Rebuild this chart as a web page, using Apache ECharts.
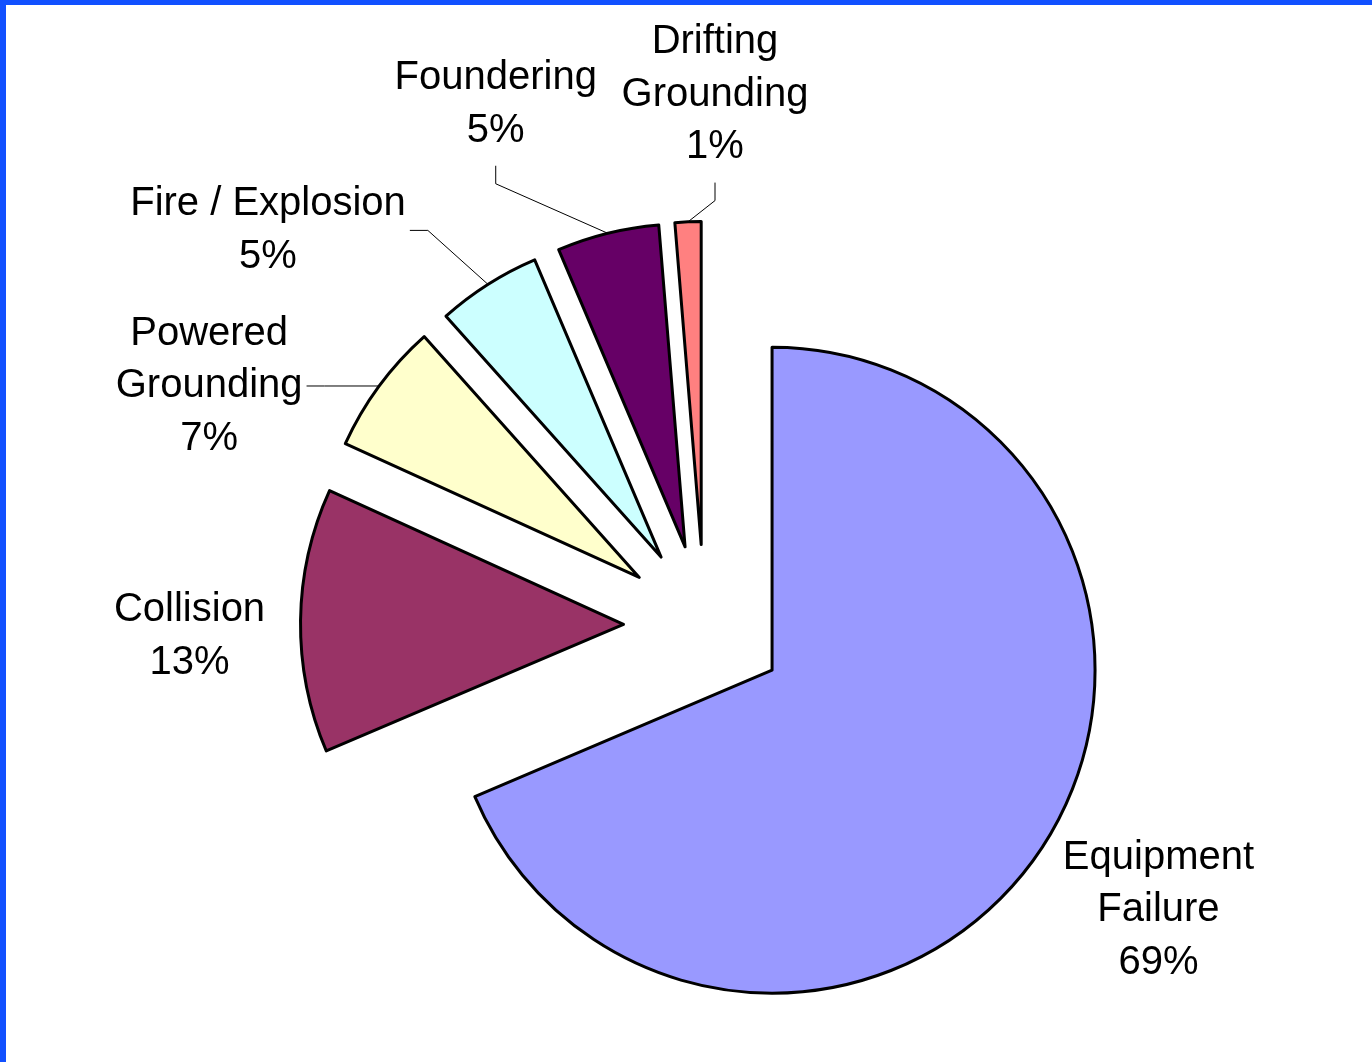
<!DOCTYPE html>
<html>
<head>
<meta charset="utf-8">
<script src="https://cdn.jsdelivr.net/npm/echarts@6/dist/echarts.min.js"></script>
<style>
html,body{margin:0;padding:0;background:#fff;}
#chart{position:absolute;left:0;top:0;width:1372px;height:1062px;}
#bl{position:absolute;left:0;top:0;width:6px;height:1062px;background:#1150ff;}
#bt{position:absolute;left:0;top:0;width:1372px;height:5px;background:#1150ff;}
</style>
</head>
<body>
<div id="chart"></div><div id="bl"></div><div id="bt"></div>
<script>
// ---- data ----
const categories = ['Equipment Failure', 'Collision', 'Powered Grounding', 'Fire / Explosion', 'Foundering', 'Drifting Grounding'];
const labelNames = ['Equipment\nFailure', 'Collision', 'Powered\nGrounding', 'Fire / Explosion', 'Foundering', 'Drifting\nGrounding'];
const values = [68.6, 13.2, 6.6, 5.2, 5.1, 1.3];

// ---- style / layout ----
const colors = ['#9999FF', '#993366', '#FFFFCC', '#CCFFFF', '#660066', '#FF8080'];
const pieCenter = [704.5, 625.5];
const pieRadius = 323;
const explodeDist = 81;
// label centre offset relative to the slice's outer-arc midpoint
const labelOffset = [[117, 62], [-111, 16], [-170, 0], [-220, -54], [-112, -129], [27, -127]];
const showLeader = [false, false, true, true, true, true];

const total = values.reduce((a, b) => a + b, 0);
let cum = 0;
const series = values.map((v, i) => {
  const mid = (cum + v / 2) / total * 2 * Math.PI;
  cum += v;
  const ux = Math.sin(mid), uy = -Math.cos(mid);
  const cx = pieCenter[0] + explodeDist * ux;
  const cy = pieCenter[1] + explodeDist * uy;
  const ax = cx + pieRadius * ux, ay = cy + pieRadius * uy;
  return {
    type: 'pie',
    silent: true,
    animation: false,
    startAngle: 90,
    clockwise: true,
    center: [cx, cy],
    radius: [0, pieRadius],
    avoidLabelOverlap: false,
    percentPrecision: 0,
    emphasis: { disabled: true },
    label: {
      position: 'outside',
      color: '#000',
      fontFamily: '"Liberation Sans", Arial, sans-serif',
      fontSize: 40,
      lineHeight: 52.5,
      padding: [9, 4, 9, 4],
      formatter: p => labelNames[p.dataIndex] + '\n' + p.percent + '%'
    },
    labelLine: { length: 0, length2: 18, smooth: false, lineStyle: { color: '#000', width: 1 } },
    labelLayout: function () {
      return { x: ax + labelOffset[i][0], y: ay + labelOffset[i][1], align: 'center', verticalAlign: 'middle' };
    },
    data: categories.map((name, j) => ({
      name: name,
      value: values[j],
      itemStyle: j === i
        ? { color: colors[j], borderColor: '#000', borderWidth: 3 }
        : { color: 'rgba(0,0,0,0)', borderWidth: 0 },
      label: { show: j === i },
      labelLine: { show: j === i && showLeader[j] }
    }))
  };
});

const chart = echarts.init(document.getElementById('chart'), null, { renderer: 'canvas' });
chart.setOption({
  backgroundColor: '#ffffff',
  animation: false,
  series: series
});
</script>
</body>
</html>
